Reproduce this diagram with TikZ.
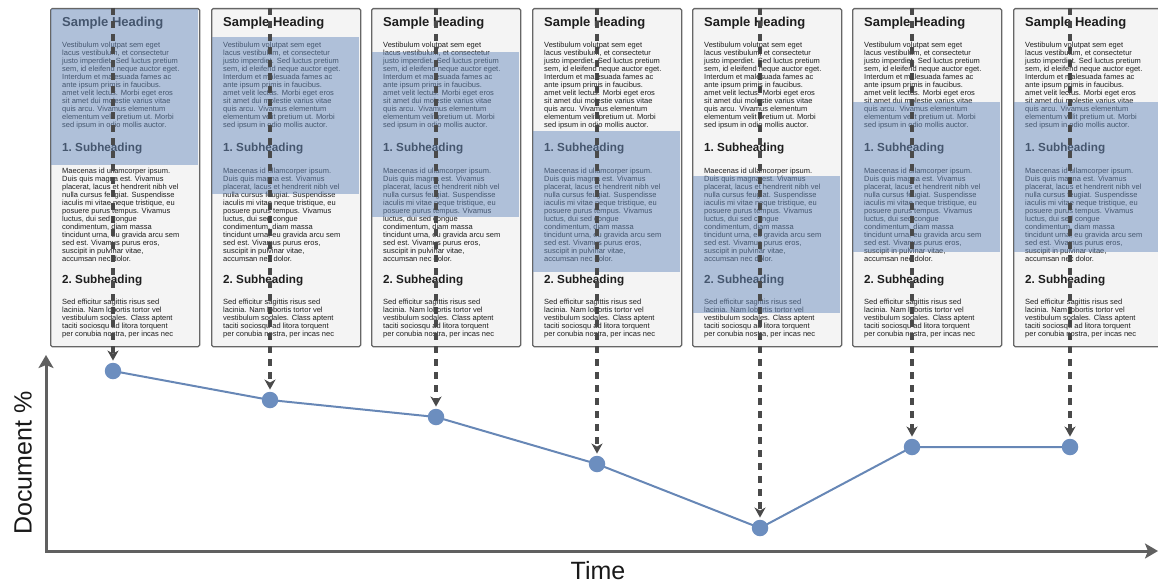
\documentclass[tikz,border=0pt]{standalone}
\usepackage{fontspec}
\setmainfont{Liberation Sans}
\usetikzlibrary{positioning,arrows.meta}
\definecolor{pagefill}{HTML}{F4F4F4}
\definecolor{pageline}{HTML}{666666}
\definecolor{plotblue}{HTML}{6C8EBF}
\definecolor{axisgray}{HTML}{606060}
\definecolor{dashgray}{HTML}{4A4A4A}
\definecolor{textgray}{HTML}{1E1E1E}
\tikzset{page/.style={draw=pageline,fill=pagefill,line width=1.3pt,rounded corners=1.5pt,minimum width=149pt,minimum height=338pt,anchor=north west,inner sep=0pt},
         heading/.style={font=\bfseries\fontsize{13}{15}\selectfont,text=textgray,anchor=west,inner sep=0pt},
         subheading/.style={font=\bfseries\fontsize{11.7}{14}\selectfont,text=textgray,anchor=west,inner sep=0pt},
         body/.style={font=\fontsize{7.5}{8}\selectfont,text=textgray,align=left,anchor=north west,inner sep=0pt},
         band/.style={fill=plotblue,fill opacity=0.5},
         point/.style={circle,fill=plotblue,minimum size=16.5pt,inner sep=0pt},
         line/.style={plotblue!95!black,line width=2pt},
         arrow/.style={dashgray,line width=3.3pt,dash pattern=on 7pt off 6pt,-{Stealth[length=10pt,width=11pt,inset=3pt]},shorten >=2pt},
         axis/.style={axisgray,line width=3pt,{Stealth[length=13pt,width=15pt,inset=3pt]}-{Stealth[length=13pt,width=15pt,inset=3pt]}},
         axislabel/.style={font=\fontsize{25}{28}\selectfont,text=black!90}
}
\newcommand{\introtext}{Vestibulum volutpat sem eget\\lacus vestibulum, et consectetur\\justo imperdiet. Sed luctus pretium\\sem, id eleifend neque auctor eget.\\Interdum et malesuada fames ac\\ante ipsum primis in faucibus.\\amet velit lectus. Morbi eget eros\\sit amet dui molestie varius vitae\\quis arcu. Vivamus elementum\\elementum velit pretium ut. Morbi\\sed ipsum in odio mollis auctor.}
\newcommand{\firsttext}{Maecenas id ullamcorper ipsum.\\Duis quis magna est. Vivamus\\placerat, lacus et hendrerit nibh vel\\nulla cursus feugiat. Suspendisse\\iaculis mi vitae neque tristique, eu\\posuere purus tempus. Vivamus\\luctus, dui sed congue\\condimentum, diam massa\\tincidunt urna, eu gravida arcu sem\\sed est. Vivamus purus eros,\\suscipit in pulvinar vitae,\\accumsan nec dolor.}
\newcommand{\secondtext}{Sed efficitur sagittis risus sed\\lacinia. Nam lobortis tortor vel\\vestibulum sodales. Class aptent\\taciti sociosqu ad litora torquent\\per conubia nostra, per incas nec}

\begin{document}
\begin{tikzpicture}[x=1pt,y=-1pt]
\useasboundingbox (0,0) rectangle (1158,586);

% pages, with the part being read shaded
\foreach \i/\px/\ax/\top/\bot/\dy in {1/50/113/8.7/165/371,2/211/270/37/194/400,3/371/436/52/217/417,4/532/597/131/272/464,5/692/760/176/313/528,6/852/912/102/252/447,7/1013/1070/102/252/447}{
  \node[page] (p\i) at (\px,8) {};
  \node[heading] (h\i) at (\px+12,23) {Sample Heading};
  \node[body] (a\i) at (\px+12,41.5) {\introtext};
  \node[subheading] (s\i) at (\px+12,148) {1.\ Subheading};
  \node[body] (b\i) at (\px+12,167.5) {\firsttext};
  \node[subheading] (u\i) at (\px+12,280) {2.\ Subheading};
  \node[body] (c\i) at (\px+12,298.5) {\secondtext};
  \fill[band] (\px+0.65,\top) rectangle (\px+148.35,\bot);
  \coordinate (t\i) at (\ax,8);
  \coordinate (v\i) at (\ax,\dy);
}

% axes
\coordinate (origin) at (46,551);
\coordinate (ymax) at (46,355);
\coordinate (xmax) at (1158,551);
\draw[axis] (ymax)--(origin)--(xmax);
\node[axislabel,rotate=90] (ylab) at (23,463) {Document \%};
\node[axislabel] (xlab) at (598,571) {Time};

% reading position over time
\draw[line] (v1)--(v2)--(v3)--(v4)--(v5)--(v6)--(v7);
\foreach \i in {1,...,7}{
  \node[point] (d\i) at (v\i) {};
  \draw[arrow] (t\i)--(d\i);
}

\end{tikzpicture}
\end{document}
